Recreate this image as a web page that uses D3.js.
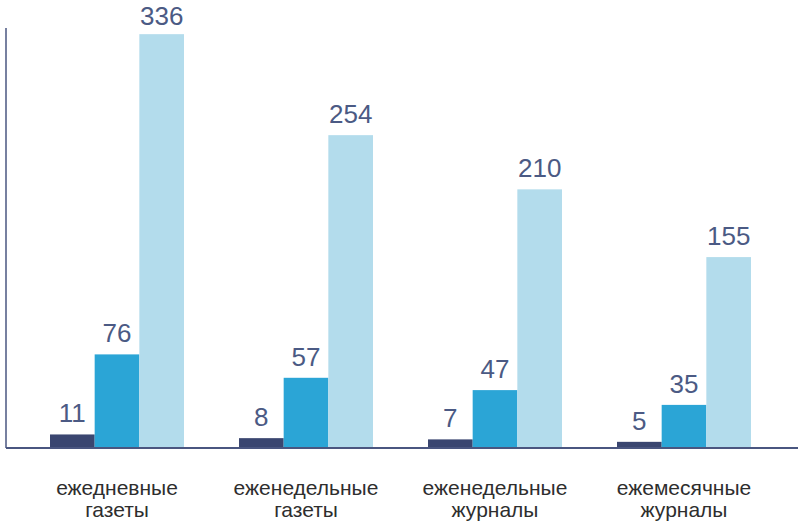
<!DOCTYPE html>
<html>
<head>
<meta charset="utf-8">
<script src="https://cdn.jsdelivr.net/npm/d3@7"></script>
<style>
  html, body { margin: 0; padding: 0; background: #fff; }
  svg { display: block; font-family: "Liberation Sans", Arial, sans-serif; }
  .val { fill: #4b5a84; font-size: 26px; }
  .cat { fill: #2e2e2e; font-size: 21px; }
</style>
</head>
<body>
<div id="chart"></div>
<script>
// Данные
const categories = [
  ["ежедневные", "газеты"],
  ["еженедельные", "газеты"],
  ["еженедельные", "журналы"],
  ["ежемесячные", "журналы"]
];
const seriesA = [11, 8, 7, 5];
const seriesB = [76, 57, 47, 35];
const seriesC = [336, 254, 210, 155];

const COLORS = ["#3a4670", "#2ba5d6", "#b3dcec"];

const width = 798, height = 524;
const svg = d3.select("#chart").append("svg")
  .attr("width", width).attr("height", height);

const keys = categories.map(c => c.join(" "));
const x = d3.scaleBand().domain(keys).range([22.5, 778.5])
  .paddingInner(0.291).paddingOuter(0.1455);
const xs = d3.scaleBand().domain([0, 1, 2]).range([0, x.bandwidth()]);
const y = d3.scaleLinear().domain([0, 341]).range([448, 28]);

const rows = keys.map((k, i) => ({ key: k, vals: [seriesA[i], seriesB[i], seriesC[i]] }));

const groups = svg.append("g").selectAll("g").data(rows).join("g")
  .attr("transform", d => `translate(${x(d.key)},0)`);

groups.selectAll("rect").data(d => d.vals).join("rect")
  .attr("x", (v, j) => xs(j))
  .attr("width", xs.bandwidth())
  .attr("y", v => y(v))
  .attr("height", v => y(0) - y(v))
  .attr("fill", (v, j) => COLORS[j]);

// подпись не выше верхнего края
groups.selectAll("text.val").data(d => d.vals).join("text")
  .attr("class", "val")
  .attr("x", (v, j) => xs(j) + xs.bandwidth() / 2)
  .attr("y", v => Math.max(y(v) - 12, 25))
  .attr("text-anchor", "middle")
  .text(v => v);

// Оси
svg.append("line")
  .attr("x1", 6).attr("x2", 6).attr("y1", y.range()[1]).attr("y2", y(0))
  .attr("stroke", "#4a5680").attr("stroke-width", 1.5);
svg.append("line")
  .attr("x1", 6).attr("x2", width).attr("y1", y(0)).attr("y2", y(0))
  .attr("stroke", "#4a5680").attr("stroke-width", 2);

// Подписи категорий
svg.append("g").selectAll("text").data(categories).join("text")
  .attr("class", "cat")
  .attr("text-anchor", "middle")
  .attr("transform", (c, i) => `translate(${x(keys[i]) + x.bandwidth() / 2},495)`)
  .each(function (c) {
    const t = d3.select(this);
    c.forEach((line, k) => t.append("tspan").attr("x", 0).attr("y", k * 22).text(line));
  });
</script>
</body>
</html>
